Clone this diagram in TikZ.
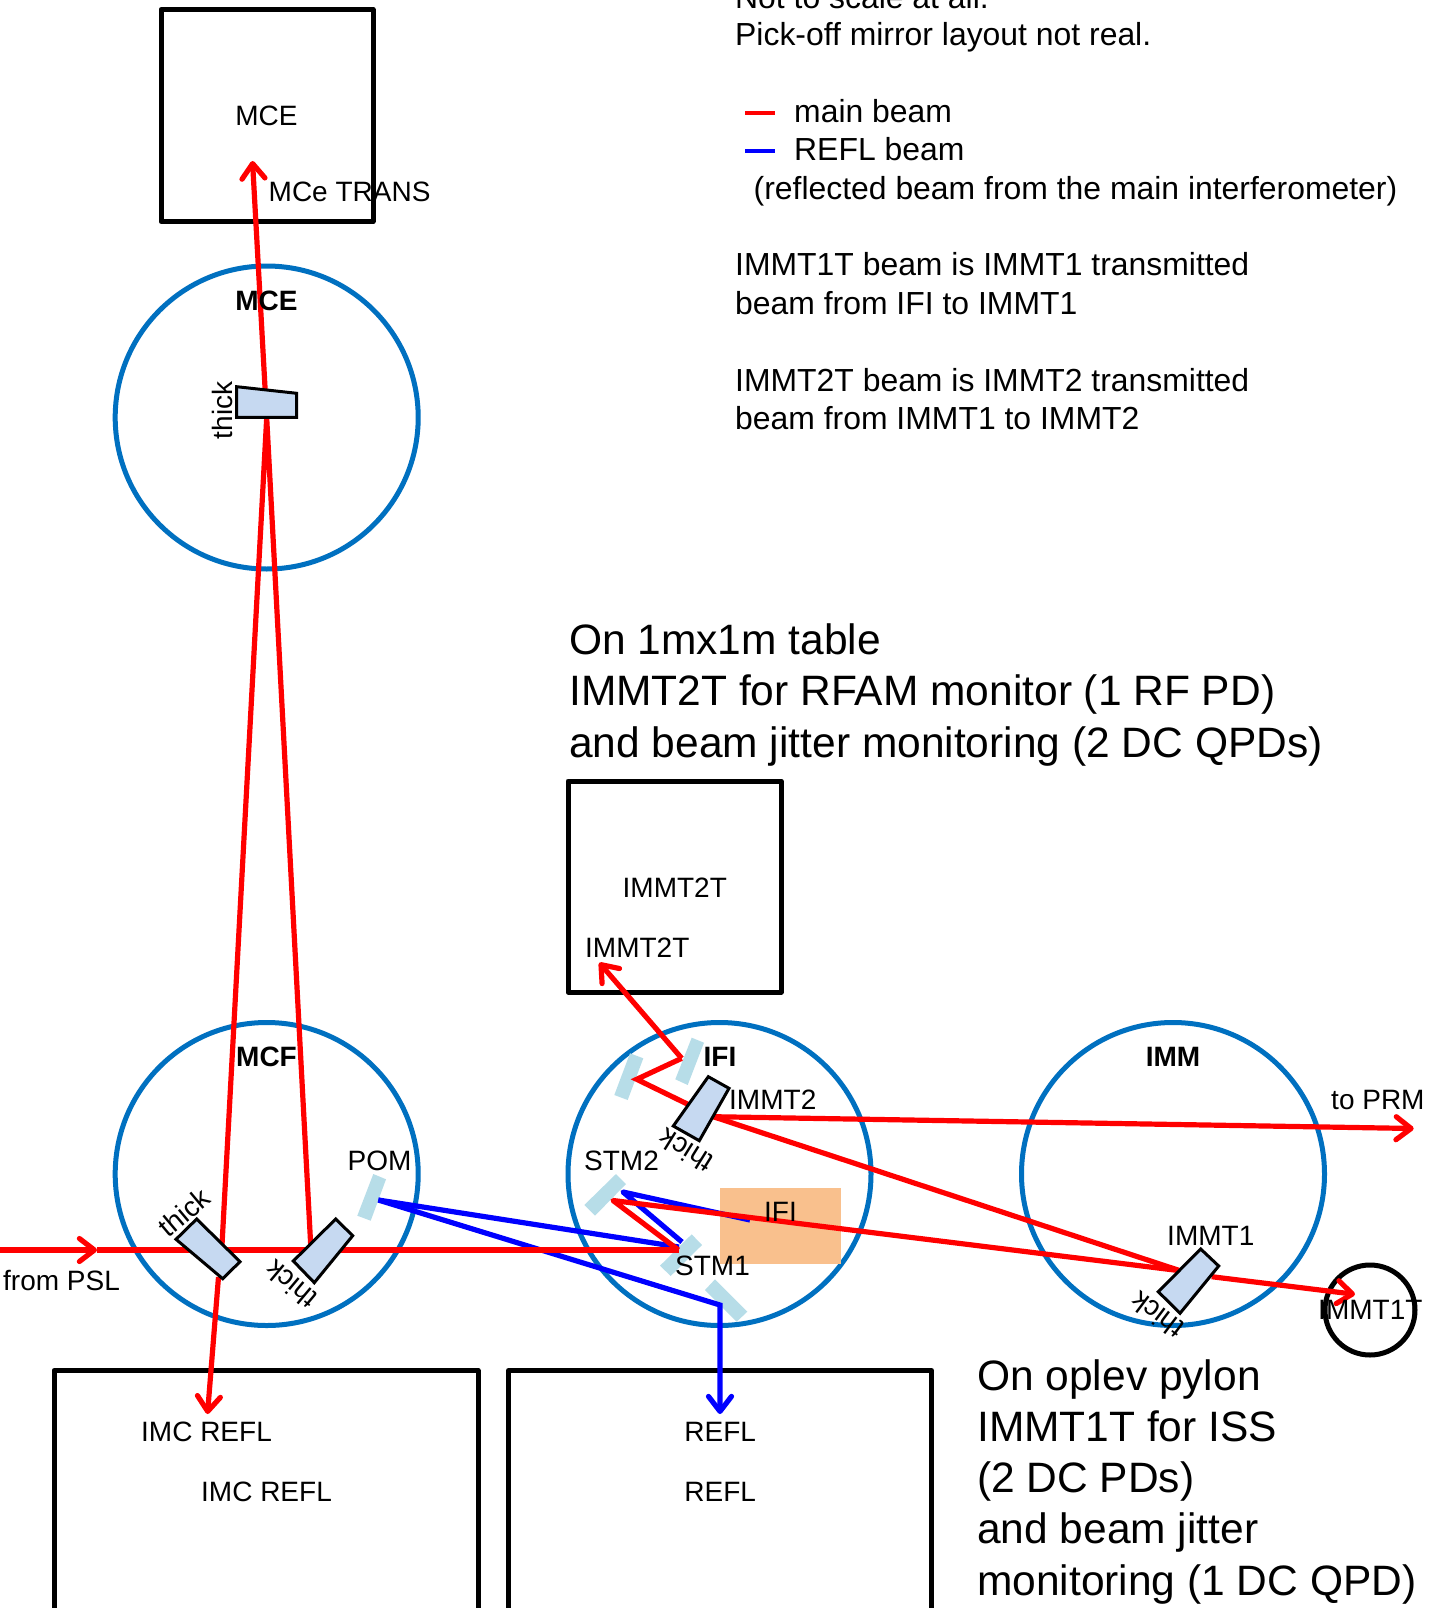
\documentclass[tikz,border=0pt]{standalone}
\usepackage{fontspec}
\setmainfont{Liberation Sans}
\usetikzlibrary{arrows.meta}
\definecolor{chamber}{HTML}{0070C0}
\definecolor{blockfill}{HTML}{C6D9F1}
\definecolor{pickoff}{HTML}{B7DDE8}
\definecolor{isolator}{HTML}{F9C08D}
\definecolor{beamred}{HTML}{FF0000}
\definecolor{beamblue}{HTML}{0000FF}
\tikzset{
  chambercircle/.style={circle,draw=chamber,line width=5pt,minimum size=303pt,inner sep=0pt,outer sep=0pt},
  tablebox/.style={draw=black,line width=5pt,line join=round},
  optic/.style={draw=black,fill=blockfill,line width=3pt,line join=miter},
  pickmirror/.style={fill=pickoff},
  redbeam/.style={draw=beamred,line width=5.2pt,line join=miter},
  bluebeam/.style={draw=beamblue,line width=5.2pt,line join=miter},
  beamtip/.style={-{Straight Barb[length=15pt,width=23pt,round]}},
  lab/.style={font=\fontsize{28}{28}\selectfont,inner sep=0pt,anchor=base},
  labl/.style={font=\fontsize{28}{28}\selectfont,inner sep=0pt,anchor=base west},
  labb/.style={font=\fontsize{28}{28}\bfseries\selectfont,inner sep=0pt,anchor=base},
  note/.style={font=\fontsize{31.9}{31.9}\selectfont,inner sep=0pt,anchor=base west},
  bigtext/.style={font=\fontsize{42.5}{42.5}\selectfont,inner sep=0pt,anchor=base west},
  thicklab/.style={font=\fontsize{28}{28}\selectfont,inner sep=0pt,anchor=center},
}
\begin{document}
\begin{tikzpicture}[x=1pt,y=-1pt]
\useasboundingbox (0,0) rectangle (1428,1608);
\fill[white] (0,0) rectangle (1428,1608);

% chambers
\node[chambercircle] (mcecircle) at (266.7,417.5) {};
\node[chambercircle] (mcfcircle) at (266.7,1174) {};
\node[chambercircle] (ificircle) at (719.5,1174) {};
\node[chambercircle] (immcircle) at (1173,1174) {};
\node[circle,draw=black,line width=5pt,minimum size=90pt,inner sep=0pt,outer sep=0pt] (trcircle) at (1370,1310) {};

% tables
\node[tablebox,minimum width=212pt,minimum height=212pt,inner sep=0pt,outer sep=0pt,anchor=north west] (mcebox) at (161,9.5) {};
\node[tablebox,minimum width=213pt,minimum height=211pt,inner sep=0pt,outer sep=0pt,anchor=north west] (t2box) at (568,781) {};
\draw[tablebox] (54,1608) |- (478,1370.5) -- (478,1608);
\draw[tablebox] (508.5,1608) |- (931.5,1370.5) -- (931.5,1608);

% isolator
\node[fill=isolator,minimum width=121pt,minimum height=76pt,inner sep=0pt,outer sep=0pt,anchor=north west] (ifibox) at (720,1188) {};

% beam points
\coordinate (pslstart) at (0,1250);
\coordinate (pslmid) at (97,1250);
\coordinate (stmonepoint) at (678.5,1250);
\coordinate (stmtwopoint) at (613,1200.5);
\coordinate (endmirror) at (266.7,418);
\coordinate (mcetip) at (252.5,161);
\coordinate (mcfleft) at (222,1245);
\coordinate (mcfleftout) at (218.5,1277);
\coordinate (reflupper) at (310.7,1245);
\coordinate (imctip) at (207.5,1414);
\coordinate (immone) at (1180,1270.7);
\coordinate (immoneout) at (1211.7,1276.7);
\coordinate (trtip) at (1355,1294.3);
\coordinate (immtwo) at (713.3,1116.7);
\coordinate (prmtip) at (1413.7,1128.5);
\coordinate (pickb) at (636.7,1079.3);
\coordinate (picka) at (681.7,1058.3);
\coordinate (ttip) at (599.3,962.7);
\coordinate (pompoint) at (378.3,1200);
\coordinate (bluestmone) at (679,1247);
\coordinate (bluestmoneb) at (682,1242);
\coordinate (bluestmtwo) at (623,1192);
\coordinate (blueend) at (750,1220);
\coordinate (bluecorner) at (720,1305);
\coordinate (refltip) at (720,1414);

% pick-off mirrors
\fill[pickmirror] (691.7,1037.7) -- (704,1042.7) -- (687.7,1085) -- (675.3,1079.3) -- cycle;
\fill[pickmirror] (630,1053.3) -- (643.3,1058.3) -- (627.7,1100) -- (614.3,1095) -- cycle;
\fill[pickmirror] (616,1174) -- (626,1184) -- (595,1215.7) -- (584.3,1205) -- cycle;
\fill[pickmirror] (691.7,1234.3) -- (702,1245) -- (670.7,1276) -- (660,1265.7) -- cycle;
\fill[pickmirror] (715,1279.3) -- (747.3,1311.7) -- (736.7,1321.7) -- (705,1290) -- cycle;
\fill[pickmirror] (373.3,1174) -- (386,1179.3) -- (370.7,1220.7) -- (357.3,1215.7) -- cycle;

% blue beams
\draw[bluebeam] (pompoint) -- (bluestmone);
\draw[bluebeam,line join=round] (bluestmoneb) -- (bluestmtwo) -- (blueend);
\draw[bluebeam,beamtip] (pompoint) -- (bluecorner) -- (refltip);

% red beams
\draw[redbeam,beamtip] (pslstart) -- (pslmid);
\draw[redbeam] (pslmid) -- (stmonepoint);
\draw[redbeam,line join=round] (stmonepoint) -- (stmtwopoint) -- (immone);
\draw[redbeam] (reflupper) -- (endmirror) -- (mcfleft);
\draw[redbeam,beamtip] (mcfleftout) -- (imctip);
\draw[redbeam,beamtip] (endmirror) -- (mcetip);
\draw[redbeam] (immone) -- (immtwo) -- (pickb) -- (picka);
\draw[redbeam,beamtip] (picka) -- (ttip);
\draw[redbeam,beamtip] (immtwo) -- (prmtip);
\draw[redbeam,beamtip] (immoneout) -- (trtip);

% optics
\draw[optic] (236.7,386.7) -- (296.7,393.3) -- (296.7,417.3) -- (236.7,417.3) -- cycle;
\draw[optic] (196.7,1219) -- (240,1261.7) -- (222.7,1278.7) -- (176,1239.3) -- cycle;
\draw[optic] (335.7,1219) -- (352.7,1235.7) -- (314.3,1282.7) -- (293.3,1261) -- cycle;
\draw[optic] (708.3,1076.7) -- (729,1088.3) -- (699.3,1140.7) -- (673.3,1126) -- cycle;
\draw[optic] (1200.7,1249) -- (1218.7,1266) -- (1180,1313.3) -- (1158.3,1291.7) -- cycle;

% labels
\node[lab] (lmcebox) at (266.5,126) {MCE};
\node[labl] (lmcetrans) at (268.5,201) {MCe TRANS};
\node[labb] (lmce) at (266.5,310) {MCE};
\node[labb] (lmcf) at (266.5,1066) {MCF};
\node[labb] (lifi) at (720,1066) {IFI};
\node[labb] (limm) at (1173,1066) {IMM};
\node[thicklab,rotate=90] (tha) at (222,410.5) {thick};
\node[thicklab,rotate=40] (thb) at (184,1212) {thick};
\node[thicklab,rotate=140] (thc) at (291,1285) {thick};
\node[thicklab,rotate=148] (thd) at (686,1151) {thick};
\node[thicklab,rotate=143] (the) at (1157,1315) {thick};
\node[lab] (lpom) at (379.5,1170) {POM};
\node[labl] (lpsl) at (3,1290) {from PSL};
\node[labl] (lstmtwo) at (584,1170) {STM2};
\node[labl] (lstmone) at (675,1275) {STM1};
\node[labl] (limmtwo) at (729,1109.5) {IMMT2};
\node[labl] (lprm) at (1331,1109) {to PRM};
\node[lab] (lifibox) at (780.5,1221) {IFI};
\node[labl] (limmone) at (1167,1245) {IMMT1};
\node[labl] (ltr) at (1318,1319.5) {IMMT1T};
\node[labl] (ltwoa) at (622.5,897) {IMMT2T};
\node[labl] (ltwob) at (585,957) {IMMT2T};
\node[labl] (limca) at (141,1441) {IMC REFL};
\node[labl] (limcb) at (201,1501.5) {IMC REFL};
\node[lab] (lrefa) at (720.2,1441) {REFL};
\node[lab] (lrefb) at (720.2,1501.5) {REFL};

% notes
\node[note] (na) at (735,8.5) {Not to scale at all.};
\node[note] (nb) at (735,46) {Pick-off mirror layout not real.};
\coordinate (legrs) at (745,113);
\coordinate (legre) at (775,113);
\coordinate (legbs) at (745,151);
\coordinate (legbe) at (775,151);
\draw[redbeam,line width=4pt] (legrs) -- (legre);
\draw[bluebeam,line width=4pt] (legbs) -- (legbe);
\node[note] (nc) at (794,123) {main beam};
\node[note] (nd) at (794,161) {REFL beam};
\node[note] (ne) at (753.5,199.5) {(reflected beam from the main interferometer)};
\node[note] (nf) at (735,275) {IMMT1T beam is IMMT1 transmitted};
\node[note] (ng) at (735,314) {beam from IFI to IMMT1};
\node[note] (nh) at (735,391) {IMMT2T beam is IMMT2 transmitted};
\node[note] (ni) at (735,429) {beam from IMMT1 to IMMT2};

\node[bigtext] (ba) at (569,654) {On 1mx1m table};
\node[bigtext] (bb) at (569,705.5) {IMMT2T for RFAM monitor (1 RF PD)};
\node[bigtext] (bc) at (569,757) {and beam jitter monitoring (2 DC QPDs)};
\node[bigtext] (bd) at (977,1390) {On oplev pylon};
\node[bigtext] (be) at (977,1441) {IMMT1T for ISS};
\node[bigtext] (bf) at (977,1492) {(2 DC PDs)};
\node[bigtext] (bg) at (977,1543.5) {and beam jitter};
\node[bigtext] (bh) at (977,1595) {monitoring (1 DC QPD)};
\end{tikzpicture}
\end{document}
